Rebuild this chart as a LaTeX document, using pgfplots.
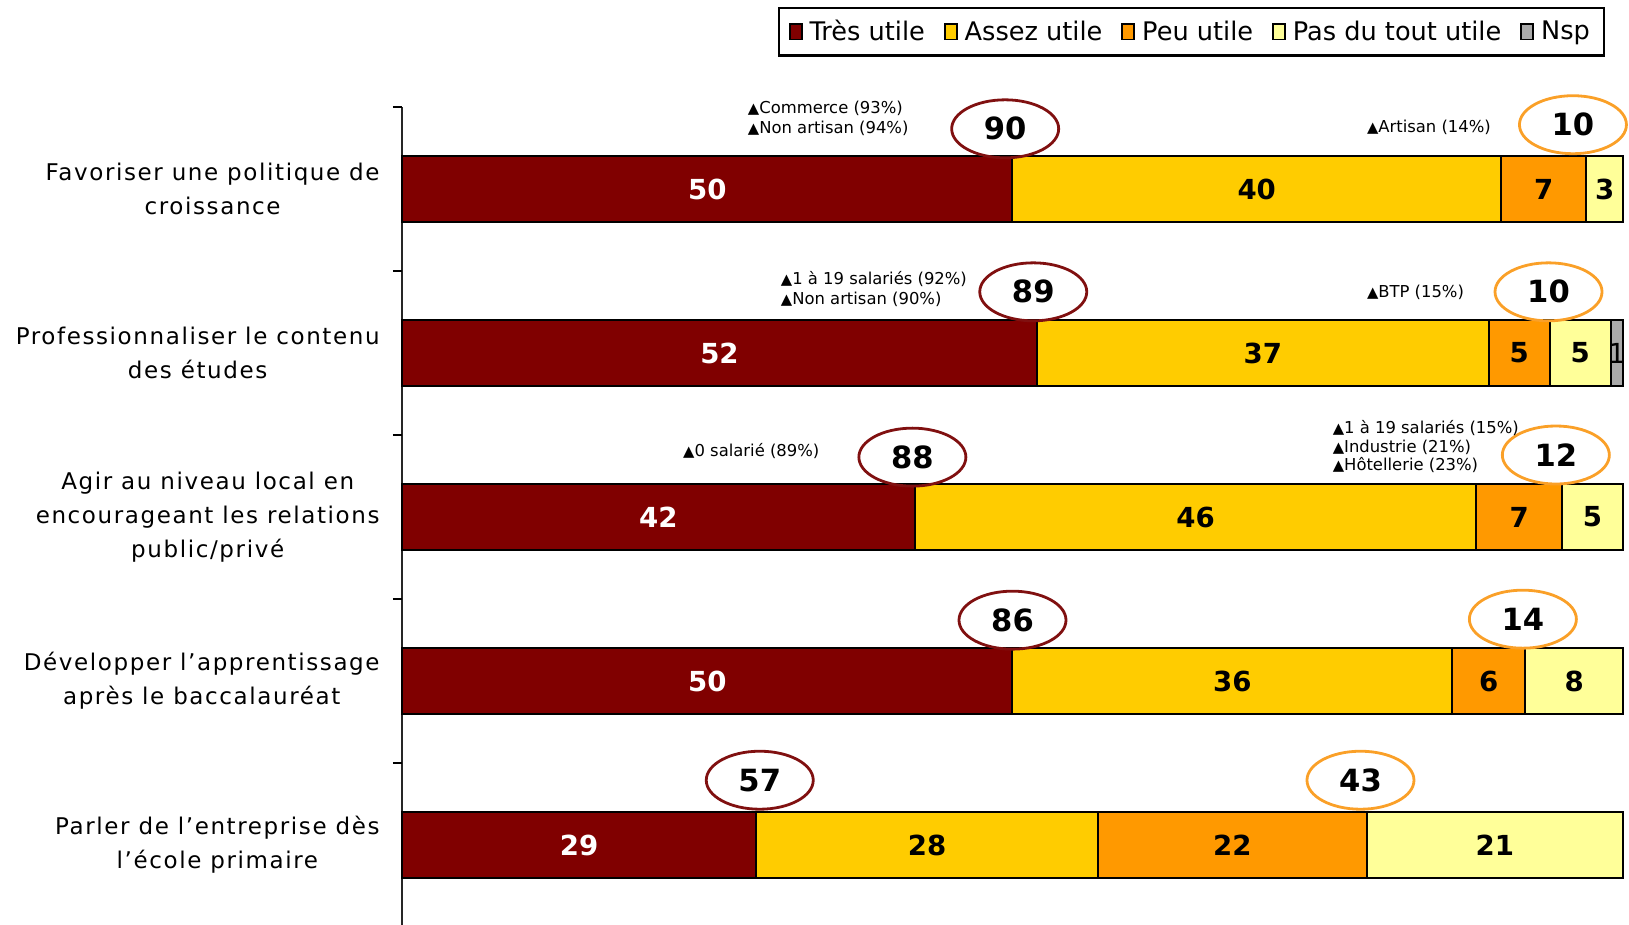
\documentclass[border=0pt]{standalone}
\usepackage{pgfplots}
\pgfplotsset{compat=1.18}
\usepackage{pgfplotstable}
\usepackage{fontspec}
\setmainfont{DejaVu Sans}
\newfontfamily\catfont[LetterSpace=7]{DejaVu Sans}
\usetikzlibrary{shapes.geometric}

\definecolor{tres}{RGB}{128,0,0}
\definecolor{assez}{RGB}{255,204,0}
\definecolor{peu}{RGB}{255,153,0}
\definecolor{pas}{RGB}{255,255,153}
\definecolor{nsp}{RGB}{170,170,170}
\definecolor{ellred}{RGB}{128,16,16}
\definecolor{ellorange}{RGB}{250,160,40}

% one row per question, values in %
\pgfplotstableread{
row tres assez peu pas nsp
0 50 40 7 3 0
1 52 37 5 5 1
2 42 46 7 5 0
3 50 36 6 8 0
4 29 28 22 21 0
}\answers
% centre of each segment, for the value labels
\pgfplotstablecreatecol[create col/expr={\thisrow{tres}/2}]{ctres}\answers
\pgfplotstablecreatecol[create col/expr={\thisrow{tres}+\thisrow{assez}/2}]{cassez}\answers
\pgfplotstablecreatecol[create col/expr={\thisrow{tres}+\thisrow{assez}+\thisrow{peu}/2}]{cpeu}\answers
\pgfplotstablecreatecol[create col/expr={\thisrow{tres}+\thisrow{assez}+\thisrow{peu}+\thisrow{pas}/2}]{cpas}\answers
\pgfplotstablecreatecol[create col/expr={\thisrow{tres}+\thisrow{assez}+\thisrow{peu}+\thisrow{pas}+\thisrow{nsp}/2}]{cnsp}\answers

\newcommand\tri{{\fontsize{7.4}{7}\selectfont ▲}}
\tikzset{
  ann/.style={anchor=west, inner sep=0pt, font=\fontsize{8.2}{9}\selectfont},
  tot/.style={ellipse, draw=#1, line width=1.4pt, minimum width=53.5pt,
    minimum height=29pt, inner sep=0pt, font=\bfseries\fontsize{15.3}{15}\selectfont},
}
\pgfplotsset{
  frame/.style={scale only axis, width=610.5pt, height=410pt,
    xmin=0, xmax=100, ymin=-0.5, ymax=4.5, y dir=reverse, clip=false},
  lab/.style={only marks, mark=none, point meta=explicit symbolic,
    nodes near coords, nodes near coords align=center,
    every node near coord/.append style={anchor=center, inner sep=0pt,
      font=\bfseries\fontsize{13.8}{14}\selectfont}},
}

\begin{document}
\begin{tikzpicture}
\useasboundingbox (-201pt,1pt) rectangle (613.5pt,463.5pt);
\begin{axis}[
    frame,
    xbar stacked, bar width=33pt,
    axis x line=none, axis y line=left,
    y axis line style={-, line width=1pt, draw=black!85},
    ytick={0,...,4},
    yticklabels={
      {Favoriser une politique de\\croissance},
      {Professionnaliser le contenu\\des études},
      {Agir au niveau local en\\encourageant les relations\\public/privé},
      {Développer l’apprentissage\\après le baccalauréat},
      {Parler de l’entreprise dès\\l’école primaire}},
    yticklabel style={align=center, font=\catfont\fontsize{11.5}{17}\selectfont,
      inner sep=0pt, xshift=-6.5pt},
    tick align=outside, major tick length=4.5pt,
    ytick style={draw=none},
    extra y ticks={-0.5,0.5,1.5,2.5,3.5},
    extra y tick labels={},
    extra y tick style={ytick style={draw=black, line width=1pt}},
    legend columns=5,
    legend image code/.code={\draw[#1, draw=black, line width=0.9pt] (0pt,-3.8pt) rectangle (6pt,3.8pt);},
    legend style={at={(0.9853,1.122)}, anchor=north east, draw=black, line width=1.2pt,
      font=\fontsize{12.8}{14}\selectfont, inner xsep=5pt, inner ysep=4pt,
      /tikz/every odd column/.append style={column sep=1.5pt},
      /tikz/every even column/.append style={column sep=7.5pt}},
]
\addplot[fill=tres, draw=black, line width=1pt] table[x=tres, y=row] {\answers};
\addplot[fill=assez, draw=black, line width=1pt] table[x=assez, y=row] {\answers};
\addplot[fill=peu, draw=black, line width=1pt] table[x=peu, y=row] {\answers};
\addplot[fill=pas, draw=black, line width=1pt] table[x=pas, y=row] {\answers};
\addplot[fill=nsp, draw=black, line width=1pt] table[x=nsp, y=row] {\answers};
\legend{Très utile, Assez utile, Peu utile, Pas du tout utile, Nsp}
\end{axis}

\begin{axis}[frame, hide axis]
\addplot[lab, every node near coord/.append style={text=white}]
  table[x=ctres, y=row, meta=tres] {\answers};
\addplot[lab] table[x=cassez, y=row, meta=assez] {\answers};
\addplot[lab] table[x=cpeu, y=row, meta=peu] {\answers};
\addplot[lab] table[x=cpas, y=row, meta=pas] {\answers};
\addplot[lab, restrict expr to domain={\thisrow{nsp}}{0.5:100},
  every node near coord/.append style={font=\fontsize{13.8}{14}\selectfont}]
  table[x=cnsp, y=row, meta=nsp] {\answers};

% totals
\node[tot=ellred] at (axis cs:49.4,-0.367) {90};
\node[tot=ellorange] at (axis cs:95.9,-0.392) {10};
\node[tot=ellred] at (axis cs:51.7,0.627) {89};
\node[tot=ellorange] at (axis cs:93.9,0.627) {10};
\node[tot=ellred] at (axis cs:41.8,1.635) {88};
\node[tot=ellorange] at (axis cs:94.5,1.622) {12};
\node[tot=ellred] at (axis cs:50.0,2.629) {86};
\node[tot=ellorange] at (axis cs:91.8,2.623) {14};
\node[tot=ellred] at (axis cs:29.3,3.605) {57};
\node[tot=ellorange] at (axis cs:78.5,3.605) {43};

% significant sub-groups
\node[ann] at (axis cs:28.3,-0.494) {\tri Commerce (93\%)};
\node[ann] at (axis cs:28.3,-0.372) {\tri Non artisan (94\%)};
\node[ann] at (axis cs:79.0,-0.378) {\tri Artisan (14\%)};
\node[ann] at (axis cs:31.0,0.549) {\tri 1 à 19 salariés (92\%)};
\node[ann] at (axis cs:31.0,0.671) {\tri Non artisan (90\%)};
\node[ann] at (axis cs:79.0,0.628) {\tri BTP (15\%)};
\node[ann] at (axis cs:23.0,1.598) {\tri 0 salarié (89\%)};
\node[ann] at (axis cs:76.2,1.457) {\tri 1 à 19 salariés (15\%)};
\node[ann] at (axis cs:76.2,1.573) {\tri Industrie (21\%)};
\node[ann] at (axis cs:76.2,1.683) {\tri Hôtellerie (23\%)};
\end{axis}
\end{tikzpicture}
\end{document}
